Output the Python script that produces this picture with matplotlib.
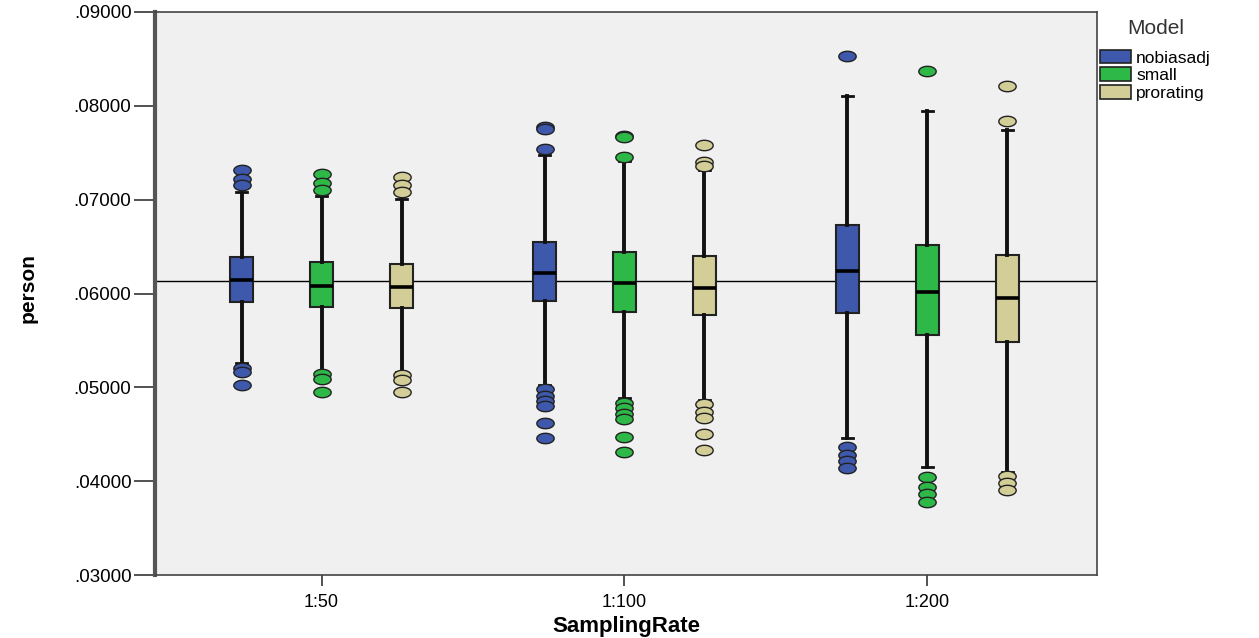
import matplotlib
matplotlib.use("Agg")
import matplotlib.pyplot as plt
import numpy as np
from matplotlib.path import Path
from matplotlib.patches import Patch
from matplotlib.ticker import FuncFormatter

plt.rcParams['font.family'] = ['Liberation Sans', 'DejaVu Sans']

categories = ['1:50', '1:100', '1:200']
models = ['nobiasadj', 'small', 'prorating']
colors = ['#3E58AC', '#2EB848', '#D3CE97']

nobiasadj_q1 = [0.05914, 0.05921, 0.05796]
nobiasadj_med = [0.06145, 0.06217, 0.06244]
nobiasadj_q3 = [0.06394, 0.06548, 0.06732]
nobiasadj_whislo = [0.05259, 0.05025, 0.04456]
nobiasadj_whishi = [0.07087, 0.07479, 0.08101]
nobiasadj_fliers = [
    [0.07319, 0.07223, 0.07152, 0.05206, 0.05163, 0.05025],
    [0.07770, 0.07753, 0.07540, 0.04979, 0.04907, 0.04857, 0.04800, 0.04622, 0.04456],
    [0.08528, 0.04366, 0.04278, 0.04217, 0.04136],
]

small_q1 = [0.05860, 0.05807, 0.05558]
small_med = [0.06084, 0.06110, 0.06020]
small_q3 = [0.06341, 0.06441, 0.06519]
small_whislo = [0.05167, 0.04883, 0.04153]
small_whishi = [0.07034, 0.07408, 0.07941]
small_fliers = [
    [0.07273, 0.07177, 0.07098, 0.05142, 0.05085, 0.04953],
    [0.07680, 0.07664, 0.07450, 0.04829, 0.04776, 0.04715, 0.04658, 0.04473, 0.04306],
    [0.08368, 0.04040, 0.03939, 0.03861, 0.03773],
]

prorating_q1 = [0.05850, 0.05772, 0.05487]
prorating_med = [0.06067, 0.06063, 0.05950]
prorating_q3 = [0.06316, 0.06401, 0.06412]
prorating_whislo = [0.05167, 0.04864, 0.04099]
prorating_whishi = [0.07006, 0.07319, 0.07739]
prorating_fliers = [
    [0.07241, 0.07152, 0.07077, 0.05131, 0.05078, 0.04953],
    [0.07586, 0.07401, 0.07354, 0.04819, 0.04740, 0.04669, 0.04502, 0.04331],
    [0.08216, 0.07835, 0.04053, 0.03976, 0.03904],
]

reference_value = 0.06135
yticks = [0.03, 0.04, 0.05, 0.06, 0.07, 0.08, 0.09]

series = [
    (nobiasadj_q1, nobiasadj_med, nobiasadj_q3, nobiasadj_whislo, nobiasadj_whishi, nobiasadj_fliers),
    (small_q1, small_med, small_q3, small_whislo, small_whishi, small_fliers),
    (prorating_q1, prorating_med, prorating_q3, prorating_whislo, prorating_whishi, prorating_fliers),
]

fig = plt.figure(figsize=(12.59, 6.38), dpi=100)
ax = fig.add_axes([155/1259, 63/638, (1097-155)/1259, (575-12)/638])
ax.set_facecolor('#f0f0f0')

theta = np.linspace(0, 2*np.pi, 40)
ellipse = Path(np.column_stack([np.cos(theta), 0.6*np.sin(theta)]), closed=True)

offsets = [-0.264, 0.0, 0.264]
ax.axhline(reference_value, color='black', lw=1.0, zorder=1)
for k, (q1, med, q3, lo, hi, fl) in enumerate(series):
    stats = []
    for i in range(len(categories)):
        stats.append(dict(q1=q1[i], med=med[i], q3=q3[i], whislo=lo[i], whishi=hi[i], fliers=fl[i]))
    pos = [i + offsets[k] for i in range(len(categories))]
    ax.bxp(stats, positions=pos, widths=0.074, capwidths=0.035, patch_artist=True, manage_ticks=False,
           showfliers=True,
           boxprops=dict(facecolor=colors[k], edgecolor='#222222', lw=1.5),
           whiskerprops=dict(color='#111111', lw=2.8),
           capprops=dict(color='#111111', lw=2.0),
           medianprops=dict(color='black', lw=2.6),
           flierprops=dict(marker=ellipse, markerfacecolor=colors[k], markeredgecolor='#222222',
                           markeredgewidth=1.0, markersize=12.5, linestyle='none'),
           zorder=3)

ax.set_xlim(-0.55, 2.56)
ax.set_ylim(0.03, 0.09)
ax.set_xticks(range(len(categories)))
ax.set_xticklabels(categories, fontsize=13)
ax.set_yticks(yticks)
ax.yaxis.set_major_formatter(FuncFormatter(lambda v, p: f"{v:.5f}"[1:]))
ax.tick_params(axis='y', direction='out', length=15, width=1.2, labelsize=13.5, color='#333333', pad=2)
ax.tick_params(axis='x', direction='out', length=8, width=1.2, color='#333333', pad=6)
for s in ['top', 'right', 'bottom']:
    ax.spines[s].set_color('#444444')
    ax.spines[s].set_linewidth(1.2)
ax.spines['left'].set_color('#555555')
ax.spines['left'].set_linewidth(3.0)

ax.set_xlabel('SamplingRate', fontsize=16, fontweight='bold', labelpad=3)
ax.set_ylabel('person', fontsize=15, fontweight='bold')
ax.yaxis.set_label_coords(-0.125, 0.51)

handles = [Patch(facecolor=c, edgecolor='#222222', lw=1.2) for c in colors]
leg = fig.legend(handles, models, loc='upper left', bbox_to_anchor=(1097/1259, 1 - 16/638),
                 frameon=False, title='Model', title_fontsize=15, fontsize=12.5,
                 handlelength=1.75, handleheight=0.85, labelspacing=0.1, handletextpad=0.3,
                 borderaxespad=0.0, borderpad=0.2)
leg._legend_box.align = 'center'
leg._legend_box.sep = 8
leg.get_title().set_color('#333333')

fig.savefig('out.png', dpi=100)
